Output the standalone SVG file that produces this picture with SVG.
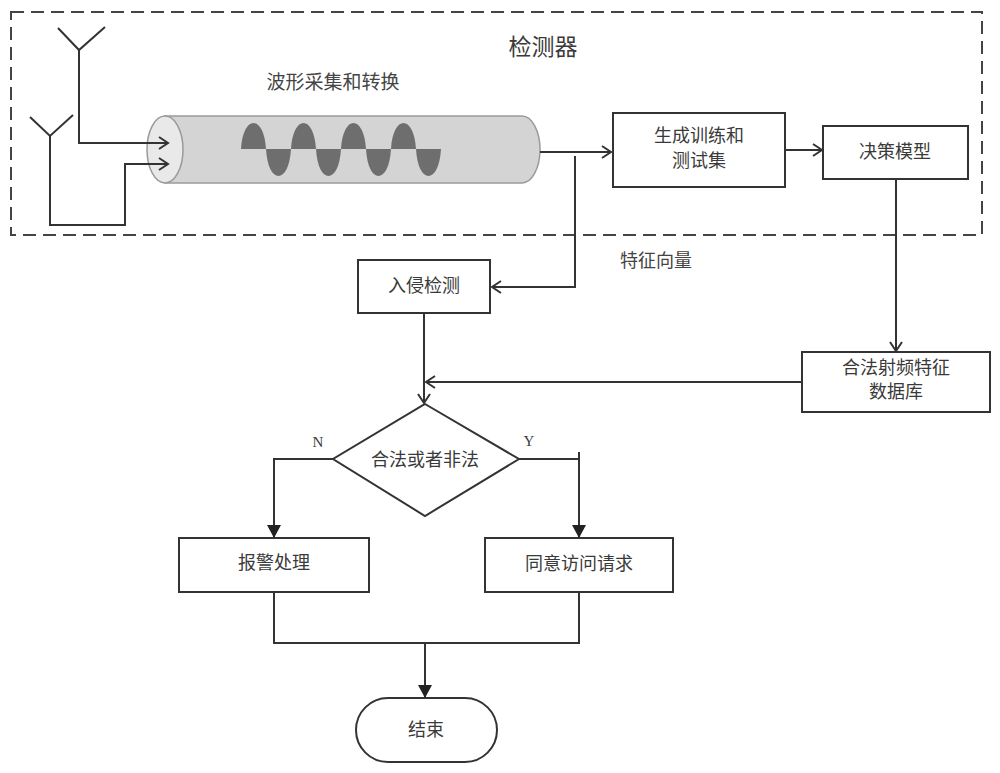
<svg xmlns="http://www.w3.org/2000/svg" width="1000" height="773" viewBox="0 0 1000 773">
<style>
.box{fill:#fff;stroke:#333;stroke-width:2}
.ln{fill:none;stroke:#333;stroke-width:2}
.t{font-family:'Liberation Serif','Noto Sans CJK SC',serif;font-size:18px;fill:#3a3a3a;text-anchor:middle;dominant-baseline:central}
.wave{fill:#6e6e6e}
</style>
<defs>
<marker id="open" markerUnits="userSpaceOnUse" markerWidth="12" markerHeight="14" viewBox="0 0 12 14" refX="10" refY="7" orient="auto">
<path d="M1,1 L10,7 L1,13" fill="none" stroke="#333" stroke-width="2"/>
</marker>
<marker id="fill" markerUnits="userSpaceOnUse" markerWidth="13" markerHeight="14" viewBox="0 0 13 14" refX="12" refY="7" orient="auto">
<path d="M0,0 L13,7 L0,14 Z" fill="#222"/>
</marker>
</defs>
<rect width="1000" height="773" fill="#fff"/>

<g id="detector">
<rect x="11" y="12" width="971" height="223" fill="none" stroke="#444" stroke-width="2" stroke-dasharray="13 7"/>
<text class="t" x="543" y="47" style="font-size:23px">检测器</text>
</g>

<g id="antennas">
<path class="ln" d="M58,28 L79,50 L105,27"/>
<path class="ln" d="M30,117 L50,136 L73,115"/>
</g>

<g id="waveform">
<text class="t" x="333" y="82" style="font-size:19px;fill:#444">波形采集和转换</text>
<path d="M165,116 L522,116 A18,33.5 0 0 1 522,183 L165,183 Z" fill="#d4d4d4" stroke="#9a9a9a" stroke-width="1.5"/>
<ellipse cx="165" cy="149.5" rx="18" ry="33.5" fill="#e9e9e9" stroke="#9a9a9a" stroke-width="1.5"/>
<path class="wave" d="M241,149 C243,114.4 264,114.4 266,149 Z M291,149 C293,114.4 314,114.4 316,149 Z M341,149 C343,114.4 364,114.4 366,149 Z M391,149 C393,114.4 414,114.4 416,149 Z"/>
<path class="wave" d="M266,149 C268,185 289,185 291,149 Z M316,149 C318,185 339,185 341,149 Z M366,149 C368,185 389,185 391,149 Z M416,149 C418,185 439,185 441,149 Z"/>
</g>

<g id="train">
<rect class="box" x="613" y="113" width="172" height="74"/>
<text class="t" x="699" y="136">生成训练和</text>
<text class="t" x="699" y="161">测试集</text>
</g>

<g id="model">
<rect class="box" x="823" y="126" width="145" height="53"/>
<text class="t" x="895" y="152">决策模型</text>
</g>

<g id="database">
<rect class="box" x="802" y="352" width="188" height="60"/>
<text class="t" x="896" y="368">合法射频特征</text>
<text class="t" x="896" y="392">数据库</text>
</g>

<g id="intrusion">
<rect class="box" x="358" y="260" width="132" height="53"/>
<text class="t" x="424" y="286">入侵检测</text>
</g>

<g id="decision">
<path class="box" d="M425,404 L519,459 L425,516 L333,459 Z"/>
<text class="t" x="425" y="460">合法或者非法</text>
</g>

<g id="alarm">
<rect class="box" x="179" y="538" width="190" height="54"/>
<text class="t" x="274" y="563">报警处理</text>
</g>

<g id="accept">
<rect class="box" x="485" y="538" width="188" height="54"/>
<text class="t" x="579" y="564">同意访问请求</text>
</g>

<g id="end">
<rect class="box" x="356" y="698" width="141" height="64" rx="32" ry="32"/>
<text class="t" x="426" y="730">结束</text>
</g>

<g id="connectors">
<path class="ln" d="M79,50 V143 H168" marker-end="url(#open)"/>
<path class="ln" d="M50,136 V225 H125 V164 H168" marker-end="url(#open)"/>
<path class="ln" d="M540,152 H611" marker-end="url(#open)"/>
<path class="ln" d="M575,156 V287 H492" marker-end="url(#open)"/>
<path class="ln" d="M785,150 H822" marker-end="url(#open)"/>
<path class="ln" d="M896,179 V351" marker-end="url(#open)"/>
<path class="ln" d="M802,382 H426" marker-end="url(#open)"/>
<path class="ln" d="M424,313 V403" marker-end="url(#open)"/>
<path class="ln" d="M333,459 H274 V537" marker-end="url(#fill)"/>
<path class="ln" d="M519,459 H579 V537" marker-end="url(#fill)"/>
<path class="ln" d="M579,459 V452"/>
<path class="ln" d="M274,592 V643 H579 V592"/>
<path class="ln" d="M425,643 V697" marker-end="url(#fill)"/>
<text x="656" y="261" class="t" style="fill:#444">特征向量</text>
<text x="318" y="442" class="t" style="font-size:15px">N</text>
<text x="529" y="441" class="t" style="font-size:15px">Y</text>
</g>
</svg>
